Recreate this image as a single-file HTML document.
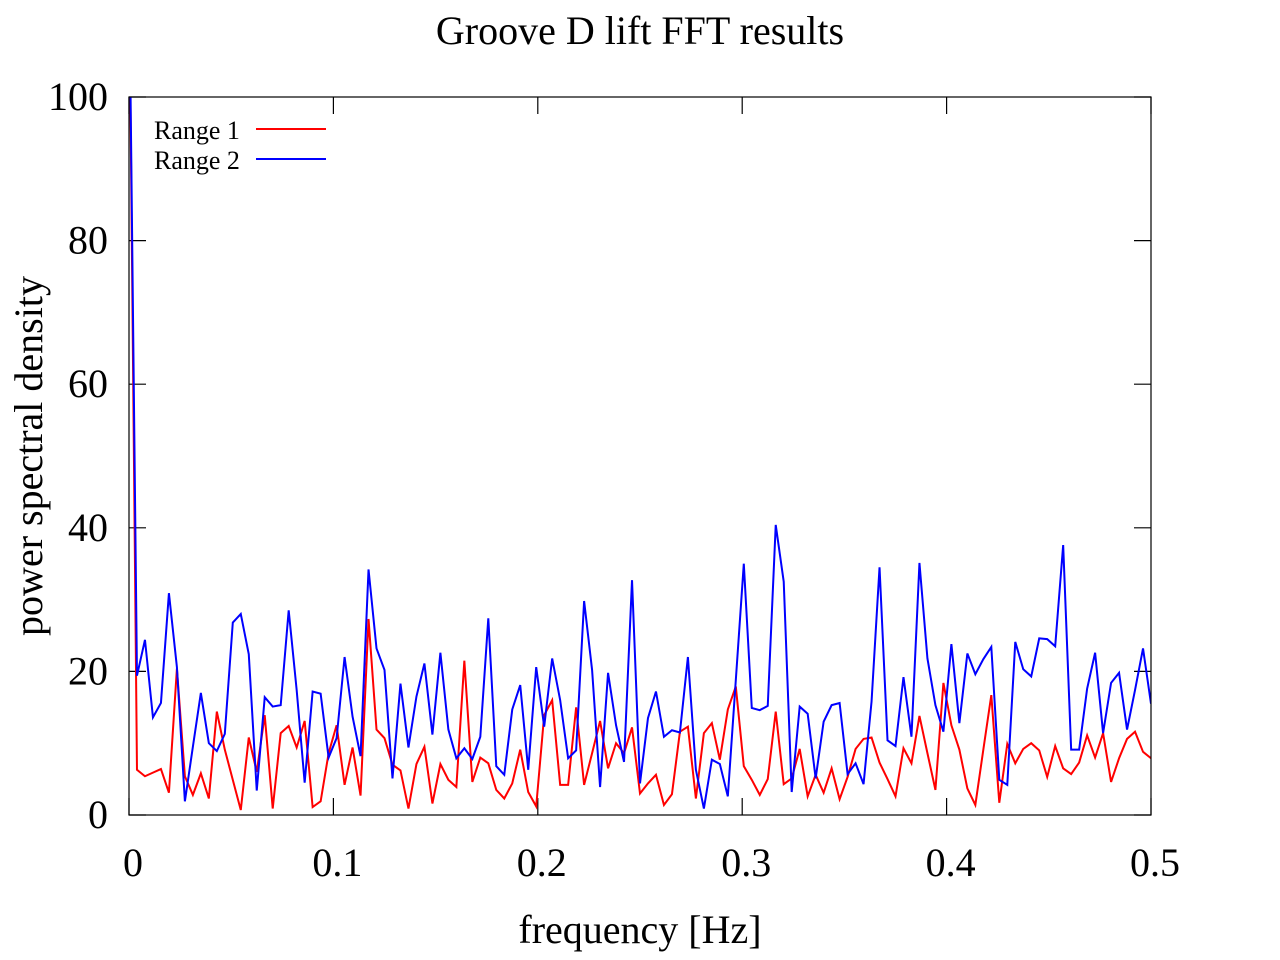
<!DOCTYPE html>
<html><head><meta charset="utf-8"><style>
html,body{margin:0;padding:0;background:#fff;}
svg{display:block;font-family:"Liberation Serif",serif;}
</style></head><body>
<svg id="chart" width="1280" height="960" viewBox="0 0 1280 960" xmlns="http://www.w3.org/2000/svg">
<rect width="1280" height="960" fill="#fff"/>
<text x="640" y="44" font-size="40" text-anchor="middle">Groove D lift FFT results</text>
<g id="axes"></g>
<defs><clipPath id="plotclip"><rect x="129" y="97" width="1022" height="718"/></clipPath></defs>
<g id="series" clip-path="url(#plotclip)"></g>
<rect x="129" y="97" width="1022" height="718" fill="none" stroke="#000" stroke-width="1.2"/>
<text transform="translate(42,456) rotate(-90)" font-size="40" text-anchor="middle">power spectral density</text>
<text x="640" y="943" font-size="40" text-anchor="middle">frequency [Hz]</text>
<g>
<text x="154" y="139" font-size="26">Range 1</text>
<line x1="256" y1="129" x2="326" y2="129" stroke="#ff0000" stroke-width="2"/>
<text x="154" y="169" font-size="26">Range 2</text>
<line x1="256" y1="159" x2="326" y2="159" stroke="#0000ff" stroke-width="2"/>
</g>
</svg>
<script>
const xTicks = [0, 0.1, 0.2, 0.3, 0.4, 0.5];
const xTickLabels = ["0", "0.1", "0.2", "0.3", "0.4", "0.5"];
const yTicks = [0, 20, 40, 60, 80, 100];
const yTickLabels = ["0", "20", "40", "60", "80", "100"];
const freqStep = 1 / 256;
const range1 = [120,6.3,5.4,5.9,6.4,3.1,20.4,5.4,2.8,5.8,2.3,14.4,9.1,4.9,0.7,10.8,6.0,13.9,0.9,11.4,12.4,9.4,13.1,1.1,1.9,8.6,12.5,4.2,9.4,2.7,27.3,11.9,10.7,7.0,6.2,0.9,7.1,9.5,1.6,7.1,4.9,3.9,21.5,4.6,8.0,7.2,3.5,2.3,4.4,9.1,3.2,1.2,13.9,16.0,4.2,4.2,15.0,4.2,8.6,13.1,6.5,10.0,8.6,12.2,3.0,4.4,5.6,1.4,2.9,11.6,12.3,2.3,11.4,12.8,7.7,14.7,17.9,6.8,4.9,2.8,5.0,14.4,4.3,5.1,9.2,2.6,5.6,3.1,6.5,2.2,5.3,9.2,10.6,10.8,7.3,5.0,2.6,9.3,7.2,13.8,8.6,3.5,18.4,12.5,9.1,3.7,1.4,9.1,16.7,1.7,9.9,7.2,9.2,10.0,9.0,5.3,9.6,6.5,5.7,7.3,11.1,8.0,11.4,4.6,7.9,10.6,11.6,8.8,7.9];
const range2 = [120,19.4,24.4,13.6,15.6,30.9,20.6,1.9,9.5,17.0,10.0,8.9,11.3,26.8,28.0,22.4,3.4,16.4,15.1,15.3,28.5,17.4,4.5,17.2,16.9,8.0,10.7,22.0,13.7,8.2,34.2,23.2,20.2,5.1,18.3,9.4,16.5,21.1,11.2,22.6,11.9,7.9,9.3,7.8,10.9,27.4,6.8,5.6,14.7,18.1,6.3,20.6,12.3,21.8,16.0,7.9,9.0,29.8,20.2,3.9,19.8,12.5,7.4,32.7,4.4,13.5,17.2,10.9,11.8,11.5,22.0,6.3,0.9,7.7,7.1,2.6,18.8,35.0,14.9,14.6,15.2,40.4,32.5,3.2,15.1,14.1,5.1,13.0,15.3,15.6,5.7,7.2,4.3,15.8,34.5,10.4,9.6,19.2,10.9,35.1,21.8,15.3,11.6,23.8,12.8,22.5,19.6,21.7,23.4,4.9,4.2,24.1,20.3,19.3,24.6,24.5,23.5,37.6,9.1,9.1,17.6,22.6,11.4,18.4,19.8,11.9,17.4,23.2,15.5];

const NS = "http://www.w3.org/2000/svg";
const X0 = 129, X1 = 1151, Y0 = 815, Y1 = 97;
function xScale(v){ return X0 + (v - 0) / 0.5 * (X1 - X0); }
function yScale(v){ return Y0 - (v - 0) / 100 * (Y0 - Y1); }

const axes = document.getElementById('axes');
xTicks.forEach((t, i) => {
  const x = xScale(t);
  [[Y0, Y0 - 17], [Y1, Y1 + 17]].forEach(([a, b]) => {
    const l = document.createElementNS(NS, 'line');
    l.setAttribute('x1', x); l.setAttribute('x2', x);
    l.setAttribute('y1', a); l.setAttribute('y2', b);
    l.setAttribute('stroke', '#000'); l.setAttribute('stroke-width', '1.2');
    
    
    axes.appendChild(l);
  });
  const tx = document.createElementNS(NS, 'text');
  tx.setAttribute('x', x + 4); tx.setAttribute('y', 876);
  tx.setAttribute('font-size', '40'); tx.setAttribute('text-anchor', 'middle');
  tx.textContent = xTickLabels[i];
  
  
  axes.appendChild(tx);
});
yTicks.forEach((t, i) => {
  const y = yScale(t);
  [[X0, X0 + 17], [X1, X1 - 17]].forEach(([a, b]) => {
    const l = document.createElementNS(NS, 'line');
    l.setAttribute('x1', a); l.setAttribute('x2', b);
    l.setAttribute('y1', y); l.setAttribute('y2', y);
    l.setAttribute('stroke', '#000'); l.setAttribute('stroke-width', '1.2');
    
    
    axes.appendChild(l);
  });
  const tx = document.createElementNS(NS, 'text');
  tx.setAttribute('x', 108); tx.setAttribute('y', y + 13);
  tx.setAttribute('font-size', '40'); tx.setAttribute('text-anchor', 'end');
  tx.textContent = yTickLabels[i];
  
  
  axes.appendChild(tx);
});

const series = document.getElementById('series');
[[range1, '#ff0000', 'range-1-line'], [range2, '#0000ff', 'range-2-line']].forEach(([vals, col, nm]) => {
  const pts = vals.map((v, i) => xScale(i * freqStep).toFixed(2) + ',' + yScale(v).toFixed(2)).join(' ');
  const pl = document.createElementNS(NS, 'polyline');
  pl.setAttribute('points', pts);
  pl.setAttribute('fill', 'none');
  pl.setAttribute('stroke', col);
  pl.setAttribute('stroke-width', '2');
  pl.setAttribute('stroke-linejoin', 'miter');
  
  
  series.appendChild(pl);
});
</script>
</body></html>
